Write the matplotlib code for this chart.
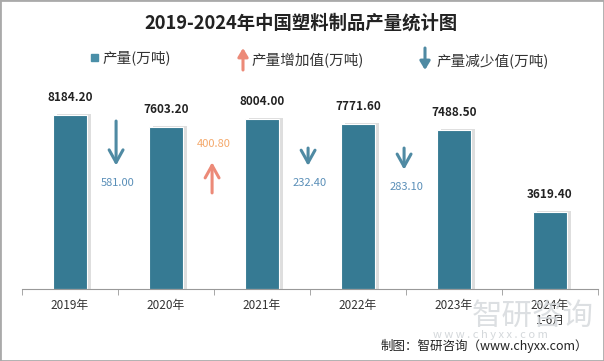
import matplotlib.pyplot as plt
from matplotlib.patches import Rectangle

plt.rcParams['font.family'] = ['Noto Sans CJK SC', 'DejaVu Sans']

years = ['2019年', '2020年', '2021年', '2022年', '2023年', '2024年\n1-6月']
output = [8184.20, 7603.20, 8004.00, 7771.60, 7488.50, 3619.40]
changes = [-581.00, 400.80, -232.40, -283.10]

# where each change arrow starts (data units) - layout only
arrow_anchor = [7900, 4520, 6630, 6630]
arrow_scale = 3.6

BAR = '#367a93'
DOWN = '#4f8aa3'
DOWN_TXT = '#5a8fb8'
UP = '#ec8a78'
UP_TXT = '#f4a96c'

ARROW = '->,head_length=0.9,head_width=0.5'


def main():
    fig = plt.figure(figsize=(6.04, 3.61), dpi=100)
    ax = fig.add_axes([22 / 604, 72 / 361, 576 / 604, 212.6 / 361])

    x = list(range(len(output)))
    # shadow then bar
    ax.bar([i + 0.04 for i in x], [v + 60 for v in output], width=0.36, color='#dedede', zorder=1)
    ax.bar(x, output, width=0.36, color=BAR, edgecolor='white', linewidth=0.8, zorder=2)
    for i, v in zip(x, output):
        ax.annotate(f'{v:.2f}', (i, v), xytext=(0, 8), textcoords='offset points',
                    ha='center', va='bottom', fontsize=8.5, fontweight='bold', color='#222222')

    for k, c in enumerate(changes):
        bx = k + 0.48
        y0 = arrow_anchor[k]
        y1 = y0 + c * arrow_scale
        col = DOWN if c < 0 else UP
        ax.annotate('', xy=(bx, y1), xytext=(bx, y0),
                    arrowprops=dict(arrowstyle=ARROW, lw=2.2, color=col, shrinkA=0, shrinkB=0))
        if c < 0:
            ax.text(bx + 0.02, y1 - 800, f'{-c:.2f}', ha='center', va='center',
                    fontsize=8, color=DOWN_TXT)
        else:
            ax.text(bx + 0.02, y1 + 850, f'{c:.2f}', ha='center', va='center',
                    fontsize=8, color=UP_TXT)

    ax.set_xlim(-0.5, len(output) - 0.5)
    ax.set_ylim(0, 10000)
    ax.set_yticks([])
    for s in ['top', 'right', 'left']:
        ax.spines[s].set_visible(False)
    ax.spines['bottom'].set_color('#999999')
    ax.set_xticks(x)
    ax.set_xticklabels(years, fontsize=8.5, color='#333333')
    ax.set_xticks([i - 0.5 for i in range(len(output) + 1)], minor=True)
    ax.tick_params(axis='x', which='major', length=0, pad=7)
    ax.tick_params(axis='x', which='minor', length=4, color='#999999')

    fig.text(301 / 604, 1 - 23 / 361, '2019-2024年中国塑料制品产量统计图', ha='center', va='center',
             fontsize=13.2, fontweight='bold', color='#222222')

    # legend
    fig.patches.append(Rectangle((91 / 604, 1 - 61 / 361), 7 / 604, 7 / 361,
                                 transform=fig.transFigure, color='#4a8fa8'))
    fig.text(102 / 604, 1 - 58 / 361, '产量(万吨)', fontsize=10.5, va='center', color='#333333')
    ax.annotate('', xy=(243 / 604, 1 - 48 / 361), xytext=(243 / 604, 1 - 70 / 361),
                xycoords='figure fraction',
                arrowprops=dict(arrowstyle='-|>,head_length=0.5,head_width=0.3',
                                lw=2.2, color=UP, shrinkA=0, shrinkB=0))
    fig.text(251 / 604, 1 - 61 / 361, '产量增加值(万吨)', fontsize=10.5, va='center', color='#333333')
    ax.annotate('', xy=(425 / 604, 1 - 70 / 361), xytext=(425 / 604, 1 - 48 / 361),
                xycoords='figure fraction',
                arrowprops=dict(arrowstyle='-|>,head_length=0.5,head_width=0.3',
                                lw=2.2, color=DOWN, shrinkA=0, shrinkB=0))
    fig.text(436 / 604, 1 - 61 / 361, '产量减少值(万吨)', fontsize=10.5, va='center', color='#333333')

    # watermark
    fig.text(472 / 604, 1 - 316 / 361, '智研咨询', fontsize=22, color='#d4d8db', alpha=0.8,
             ha='left', va='center', zorder=0)
    fig.text(433 / 604, 1 - 335 / 361, 'w w w . c h y x x . c o m', fontsize=8, color='#d4d8db',
             ha='left', va='center', zorder=0)
    fig.text(588 / 604, 1 - 346 / 361, '制图：智研咨询（www.chyxx.com）', fontsize=9,
             ha='right', va='center', color='#222222')

    fig.patches.append(Rectangle((0, 0), 1, 1, transform=fig.transFigure, fill=False,
                                 edgecolor='#aaaaaa', linewidth=2))
    fig.savefig('out.png', dpi=100)


if __name__ == '__main__':
    main()
